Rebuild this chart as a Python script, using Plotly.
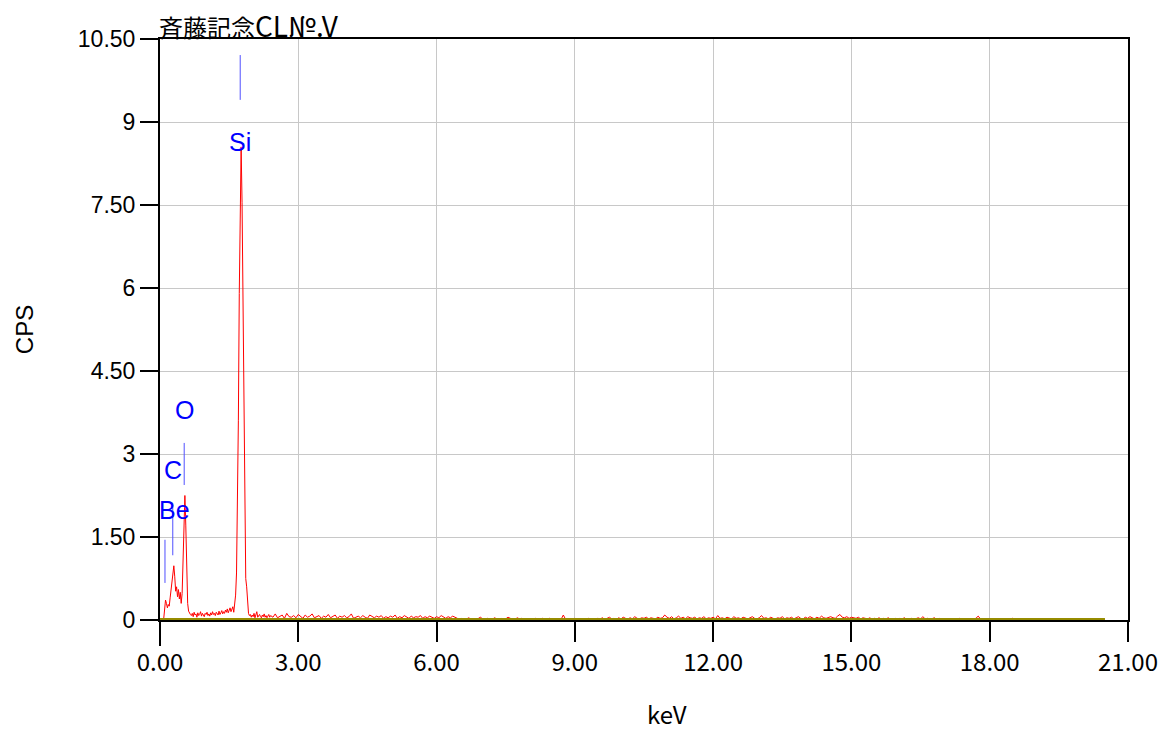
import numpy as np
import plotly.graph_objects as go

# ---------------- data ----------------
# low-energy part of the spectrum, 0.00 .. 2.38 keV, 0.02 keV channels (CPS)
low_start, low_step = 0.0, 0.02
low_cps = [
    0, 0, 0, 0, 0.02, 0.25, 0.36, 0.30, 0.22, 0.28,
    0.25, 0.40, 0.55, 0.80, 0.92, 0.98, 0.78, 0.52, 0.60, 0.42,
    0.55, 0.38, 0.50, 0.30, 0.48, 1.10, 2.05, 2.25, 1.70, 0.80,
    0.30, 0.16, 0.12, 0.10, 0.08, 0.12, 0.06, 0.14, 0.09, 0.11,
    0.05, 0.13, 0.08, 0.10, 0.15, 0.07, 0.12, 0.09, 0.06, 0.12,
    0.10, 0.14, 0.08, 0.11, 0.07, 0.13, 0.09, 0.15, 0.10, 0.12,
    0.08, 0.14, 0.11, 0.09, 0.16, 0.10, 0.13, 0.17, 0.11, 0.15,
    0.12, 0.18, 0.14, 0.20, 0.13, 0.17, 0.22, 0.15, 0.19, 0.24,
    0.14, 0.25, 0.45, 0.85, 1.90, 3.60, 5.90, 7.80, 8.55, 7.55,
    5.60, 3.50, 1.80, 0.75, 0.60, 0.30, 0.12, 0.08, 0.10, 0.05,
    0.09, 0.06, 0.12, 0.04, 0.08, 0.15, 0.05, 0.07, 0.10, 0.06,
    0.04, 0.09, 0.06, 0.11, 0.05, 0.08, 0.04, 0.07, 0.10, 0.05,
]

# high-energy tail, 2.40 .. 20.50 keV, 0.05 keV channels (CPS)
tail_start, tail_step = 2.40, 0.05
tail_a = [  # 2.40 .. 6.45
    0.08, 0.05, 0.11, 0.04, 0.07, 0.09, 0.03, 0.12, 0.06, 0.05,
    0.08, 0.04, 0.10, 0.06, 0.03, 0.09, 0.05, 0.07, 0.11, 0.04,
    0.06, 0.08, 0.03, 0.07, 0.05, 0.10, 0.04, 0.06, 0.09, 0.03,
    0.07, 0.05, 0.08, 0.04, 0.06, 0.11, 0.03, 0.05, 0.07, 0.04,
    0.08, 0.05, 0.03, 0.09, 0.06, 0.04, 0.07, 0.05, 0.08, 0.03,
    0.06, 0.04, 0.07, 0.05, 0.09, 0.03, 0.06, 0.04, 0.08, 0.05,
    0.03, 0.07, 0.04, 0.06, 0.05, 0.08, 0.03, 0.06, 0.04, 0.07,
    0.05, 0.03, 0.06, 0.04, 0.08, 0.05, 0.03, 0.06, 0.04, 0.07,
    0.05, 0.03,
]
tail_b = [  # 6.50 .. 11.00
    0.01, 0.03, 0.00, 0.02, 0.04, 0.01, 0.02, 0.00, 0.03, 0.05,
    0.02, 0.01, 0.03, 0.02, 0.00, 0.04, 0.02, 0.01, 0.03, 0.01,
    0.02, 0.05, 0.03, 0.02, 0.01, 0.04, 0.02, 0.03, 0.01, 0.02,
    0.00, 0.02, 0.01, 0.03, 0.02, 0.01, 0.03, 0.02, 0.01, 0.03,
    0.02, 0.00, 0.01, 0.02, 0.01, 0.09, 0.01, 0.02, 0.00, 0.01,
    0.03, 0.01, 0.02, 0.00, 0.02, 0.01, 0.03, 0.02, 0.01, 0.02,
    0.03, 0.02, 0.04, 0.01, 0.03, 0.05, 0.02, 0.03, 0.01, 0.04,
    0.02, 0.05, 0.03, 0.02, 0.04, 0.02, 0.06, 0.03, 0.02, 0.04,
    0.03, 0.05, 0.02, 0.04, 0.03, 0.02, 0.05, 0.03, 0.04, 0.09,
    0.05,
]
tail_c = [  # 11.05 .. 15.50
    0.03, 0.06, 0.02, 0.04, 0.07, 0.03, 0.05, 0.02, 0.06, 0.04,
    0.03, 0.05, 0.02, 0.04, 0.03, 0.06, 0.02, 0.04, 0.03, 0.05,
    0.02, 0.08, 0.03, 0.04, 0.02, 0.05, 0.03, 0.02, 0.06, 0.03,
    0.04, 0.02, 0.05, 0.03, 0.02, 0.04, 0.06, 0.03, 0.02, 0.04,
    0.08, 0.03, 0.04, 0.02, 0.05, 0.03, 0.02, 0.04, 0.03, 0.06,
    0.02, 0.04, 0.03, 0.05, 0.02, 0.04, 0.06, 0.03, 0.02, 0.05,
    0.03, 0.06, 0.04, 0.02, 0.05, 0.03, 0.07, 0.04, 0.03, 0.05,
    0.06, 0.04, 0.03, 0.07, 0.10, 0.05, 0.04, 0.06, 0.03, 0.05,
    0.04, 0.03, 0.05, 0.02, 0.04, 0.03, 0.02, 0.04, 0.01, 0.03,
]
tail_d = [  # 15.55 .. 18.00
    0.02, 0.04, 0.01, 0.03, 0.02, 0.04, 0.01, 0.02, 0.03, 0.01,
    0.03, 0.02, 0.04, 0.01, 0.02, 0.03, 0.01, 0.02, 0.04, 0.02,
    0.06, 0.02, 0.03, 0.01, 0.02, 0.04, 0.01, 0.03, 0.02, 0.01,
    0.00, 0.02, 0.01, 0.00, 0.02, 0.01, 0.03, 0.01, 0.00, 0.02,
    0.01, 0.00, 0.02, 0.03, 0.07, 0.02, 0.00, 0.01, 0.00, 0.02,
]
tail_e = [  # 18.05 .. 20.50
    0.00, 0.01, 0.02, 0.00, 0.00, 0.01, 0.00, 0.00, 0.02, 0.03,
    0.00, 0.01, 0.00, 0.00, 0.02, 0.00, 0.00, 0.01, 0.00, 0.00,
    0.00, 0.00, 0.01, 0.00, 0.00, 0.02, 0.00, 0.00, 0.00, 0.00,
    0.00, 0.00, 0.00, 0.00, 0.00, 0.00, 0.00, 0.00, 0.00, 0.00,
    0.00, 0.00, 0.00, 0.00, 0.00, 0.00, 0.00, 0.00, 0.00, 0.00,
]

# element markers
elements = ["Be", "C", "O", "Si"]
element_kev = [0.108, 0.277, 0.525, 1.740]
marker_lo = [0.67, 1.17, 2.44, 9.40]
marker_hi = [1.45, 2.08, 3.20, 10.21]
label_cps = [1.99, 2.71, 3.80, 8.64]

x_ticks = [0, 3, 6, 9, 12, 15, 18, 21]
y_ticks = [0, 1.5, 3, 4.5, 6, 7.5, 9, 10.5]
y_tick_text = ["0", "1.50", "3", "4.50", "6", "7.50", "9", "10.50"]

title_cjk = "斉藤記念"
title_latin = "CL№.V"
x_title = "keV"
y_title = "CPS"

# ---------------- build ----------------
low_kev = low_start + low_step * np.arange(len(low_cps))
tail_cps = tail_a + tail_b + tail_c + tail_d + tail_e
tail_kev = tail_start + tail_step * np.arange(len(tail_cps))
kev = np.concatenate([low_kev, tail_kev])
cps = np.concatenate([low_cps, tail_cps])

SANS = "Liberation Sans, Arial"
GOTHIC = "Noto Sans CJK JP"

fig = go.Figure()
fig.add_trace(go.Scatter(x=kev, y=cps, mode="lines",
                         line=dict(color="#ff0000", width=1),
                         showlegend=False, hoverinfo="skip"))
# baseline
fig.add_trace(go.Scatter(x=[kev[0], kev[-1]], y=[0, 0], mode="lines",
                         line=dict(color="rgb(150,140,0)", width=4),
                         showlegend=False, hoverinfo="skip"))

for name, e, lo, hi, ly in zip(elements, element_kev, marker_lo, marker_hi, label_cps):
    fig.add_trace(go.Scatter(x=[e, e], y=[lo, hi], mode="lines",
                             line=dict(color="rgb(80,80,255)", width=1),
                             showlegend=False, hoverinfo="skip"))
    fig.add_annotation(x=e, y=ly, xref="x", yref="y", text=name,
                       showarrow=False, xanchor="left" if name == "Be" else "center",
                       xshift=-8 if name == "Be" else 0,
                       font=dict(family=SANS, size=25, color="#0000ff"))

# title: CJK part and Latin part (the Latin part is set larger, as in the original)
fig.add_annotation(x=0, y=1, xref="paper", yref="paper", text=title_cjk,
                   showarrow=False, xanchor="left", yanchor="bottom", xshift=-2, yshift=-6,
                   borderpad=0, font=dict(family=GOTHIC, size=24, color="black"))
fig.add_annotation(x=0, y=1, xref="paper", yref="paper", text=title_latin,
                   showarrow=False, xanchor="left", yanchor="bottom", xshift=94, yshift=-7,
                   borderpad=0, font=dict(family=GOTHIC, size=28, color="black"))

# x-axis title, placed slightly right of centre as in the original
fig.add_annotation(x=0.524, y=0, xref="paper", yref="paper", text=x_title,
                   showarrow=False, xanchor="center", yanchor="middle", yshift=-93,
                   borderpad=0, font=dict(family=GOTHIC, size=24, color="black"))

# y-axis line continuing below the plot (as in the original instrument output)
fig.add_shape(type="line", xref="paper", yref="paper", x0=0, x1=0, y0=0, y1=-26 / 581,
              line=dict(color="black", width=2))

axis_common = dict(showline=True, linecolor="black", linewidth=2, mirror=True,
                   ticks="outside", tickcolor="black", tickwidth=2,
                   showgrid=True, gridcolor="#c8c8c8", gridwidth=1, zeroline=False,
                   layer="below traces")

fig.update_xaxes(range=[0, 21], tickvals=x_ticks, tickformat=".2f", ticklen=20,
                 ticklabeloverflow="allow", automargin=False,
                 tickfont=dict(family=GOTHIC, size=24, color="black"),
                 **axis_common)
fig.update_yaxes(range=[0, 10.5], tickvals=y_ticks, ticktext=y_tick_text, ticklen=18,
                 tickfont=dict(family=SANS, size=23, color="black"),
                 title=dict(text=y_title, standoff=37,
                            font=dict(family=SANS, size=24, color="black")),
                 **axis_common)

fig.update_layout(width=1165, height=730, autosize=False,
                  margin=dict(l=160, r=37, t=39, b=110),
                  paper_bgcolor="white", plot_bgcolor="white",
                  hovermode=False)

# remove the page's default body margin so the figure sits at the window's corner
fig.write_html("out.html",
               config={"displayModeBar": False},
               post_script="document.body.style.margin='0';document.body.style.overflow='hidden';")
